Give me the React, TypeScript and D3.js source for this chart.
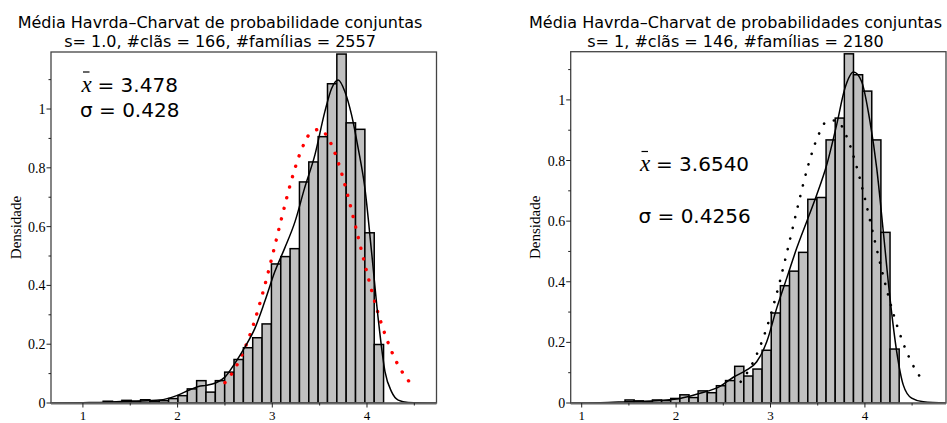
import React, { useEffect, useRef } from "react";
import * as d3 from "d3";

// histogram densities, 30 bins each
const leftBinStart = 1.214;
const leftBinWidth = 0.0987;
const leftDensity = [
  0.006, 0.003, 0.009, 0.006, 0.011, 0.006, 0.008, 0.015, 0.025, 0.048,
  0.076, 0.037, 0.076, 0.105, 0.148, 0.188, 0.222, 0.269, 0.473, 0.498,
  0.525, 0.752, 0.820, 0.906, 1.086, 1.187, 0.953, 0.931, 0.579, 0.199,
];

const rightBinStart = 1.459;
const rightBinWidth = 0.0968;
const rightDensity = [
  0.010, 0.007, 0.004, 0.010, 0.008, 0.015, 0.027, 0.018, 0.040, 0.034,
  0.057, 0.074, 0.121, 0.089, 0.112, 0.174, 0.297, 0.387, 0.435, 0.497,
  0.672, 0.678, 0.868, 0.940, 1.152, 1.083, 1.029, 0.868, 0.563, 0.178,
];

// smooth density (solid line)
const leftKde: [number, number][] = [
  [0.66, 0], [1.0, 0.001], [1.18, 0.002], [1.53, 0.006], [1.81, 0.01],
  [1.99, 0.025], [2.13, 0.045], [2.22, 0.056], [2.3, 0.06], [2.4, 0.068],
  [2.5, 0.088], [2.605, 0.135], [2.71, 0.19], [2.816, 0.254], [2.92, 0.345],
  [3.027, 0.447], [3.13, 0.526], [3.24, 0.617], [3.34, 0.73], [3.45, 0.844],
  [3.555, 0.991], [3.626, 1.07], [3.696, 1.099], [3.767, 1.059], [3.837, 0.98],
  [3.907, 0.866], [3.978, 0.73], [4.048, 0.515], [4.118, 0.288], [4.19, 0.107],
  [4.26, 0.038], [4.33, 0.01], [4.435, 0.002], [4.73, 0],
];

const rightKde: [number, number][] = [
  [0.884, 0], [1.2, 0.001], [1.477, 0.004], [1.83, 0.008], [2.04, 0.015],
  [2.253, 0.032], [2.465, 0.055], [2.606, 0.085], [2.748, 0.109], [2.854, 0.136],
  [2.96, 0.202], [3.066, 0.313], [3.172, 0.412], [3.278, 0.511], [3.383, 0.598],
  [3.489, 0.686], [3.595, 0.785], [3.7, 0.917], [3.789, 1.039], [3.88, 1.092],
  [3.966, 1.06], [4.054, 0.928], [4.125, 0.775], [4.195, 0.565], [4.266, 0.345],
  [4.337, 0.169], [4.407, 0.059], [4.495, 0.016], [4.619, 0.004], [4.859, 0],
];

// normal fit (dotted line)
const leftNormal: [number, number][] = [
  [2.5, 0.069], [2.6, 0.114], [2.7, 0.179], [2.8, 0.266], [2.9, 0.375],
  [3.0, 0.5], [3.1, 0.631], [3.2, 0.755], [3.3, 0.855], [3.4, 0.917],
  [3.5, 0.931], [3.6, 0.895], [3.7, 0.815], [3.8, 0.702], [3.9, 0.573],
  [4.0, 0.443], [4.1, 0.324], [4.2, 0.225], [4.3, 0.147], [4.4, 0.092],
  [4.45, 0.071],
];

const rightNormal: [number, number][] = [
  [2.684, 0.07], [2.8, 0.125], [2.9, 0.195], [3.0, 0.288], [3.1, 0.402],
  [3.2, 0.531], [3.3, 0.663], [3.4, 0.785], [3.5, 0.878], [3.6, 0.93],
  [3.7, 0.932], [3.8, 0.884], [3.9, 0.793], [4.0, 0.674], [4.1, 0.541],
  [4.2, 0.412], [4.3, 0.296], [4.4, 0.202], [4.5, 0.13], [4.6, 0.079],
];

const yMajor = [0, 0.2, 0.4, 0.6, 0.8, 1];
const yMajorLabels = ["0", "0.2", "0.4", "0.6", "0.8", "1"];
const xMajor = [1, 2, 3, 4];
const xMinor = [1.5, 2.5, 3.5, 4.5];

function Panel(props: any) {
  const ref = useRef<SVGGElement>(null);
  const { box, xDomain, yDomain, binStart, binWidth, density, kde, normal,
    normalColor, normalWidth, title1, title2, titleX, meanText, sdText, annot } = props;

  useEffect(() => {
    const g = d3.select(ref.current);
    g.selectAll("*").remove();

    const x = d3.scaleLinear().domain(xDomain).range([box.left, box.right]);
    const y = d3.scaleLinear().domain(yDomain).range([box.bottom, box.top]);

    const defs = g.append("defs");
    const clipId = "clip" + Math.round(box.left);
    defs.append("clipPath").attr("id", clipId)
      .append("rect")
      .attr("x", box.left).attr("y", box.top)
      .attr("width", box.right - box.left).attr("height", box.bottom - box.top);

    // titles
    g.append("text").text(title1)
      .attr("x", titleX).attr("y", 28)
      .attr("text-anchor", "middle")
      .attr("font-family", "DejaVu Sans")
      .attr("font-size", "16px");
    g.append("text").text(title2)
      .attr("x", titleX).attr("y", 46.5)
      .attr("text-anchor", "middle")
      .attr("font-family", "DejaVu Sans")
      .attr("font-size", "16px");

    // bars
    const plot = g.append("g").attr("clip-path", `url(#${clipId})`);
    plot.selectAll(".bar")
      .data(density)
      .enter()
      .append("rect")
      .attr("class", "bar")
      .attr("x", (d: number, i: number) => x(binStart + i * binWidth))
      .attr("y", (d: number) => y(d))
      .attr("width", x(binStart + binWidth) - x(binStart))
      .attr("height", (d: number) => y(0) - y(d))
      .attr("fill", "#c0c0c0")
      .attr("stroke", "#000")
      .attr("stroke-width", 1.5);

    const line = d3.line<[number, number]>()
      .x(d => x(d[0]))
      .y(d => y(d[1]))
      .curve(d3.curveMonotoneX);

    plot.append("path")
      .attr("d", line(normal))
      .attr("fill", "none")
      .attr("stroke", normalColor)
      .attr("stroke-width", normalWidth)
      .attr("stroke-linecap", "round")
      .attr("stroke-dasharray", "0.1 10.8");

    plot.append("path")
      .attr("d", line(kde))
      .attr("fill", "none")
      .attr("stroke", "#000")
      .attr("stroke-width", 1.5);

    // frame
    g.append("rect")
      .attr("x", box.left).attr("y", box.top)
      .attr("width", box.right - box.left).attr("height", box.bottom - box.top)
      .attr("fill", "none")
      .attr("stroke", "#444")
      .attr("stroke-width", 1.3);
    g.append("line")
      .attr("x1", box.left).attr("x2", box.right)
      .attr("y1", box.bottom + 0.5).attr("y2", box.bottom + 0.5)
      .attr("stroke", "#666").attr("stroke-width", 2);

    // y ticks
    const yMinor = d3.range(0.1, yDomain[1], 0.2);
    g.selectAll(".ymaj").data(yMajor).enter().append("line")
      .attr("x1", box.left - 4.5).attr("x2", box.left)
      .attr("y1", d => y(d)).attr("y2", d => y(d))
      .attr("stroke", "#222").attr("stroke-width", 1);
    g.selectAll(".ymin").data(yMinor).enter().append("line")
      .attr("x1", box.left - 2.5).attr("x2", box.left)
      .attr("y1", d => y(d)).attr("y2", d => y(d))
      .attr("stroke", "#222").attr("stroke-width", 1);
    g.selectAll(".ylab").data(yMajor).enter().append("text")
      .text((d, i) => yMajorLabels[i])
      .attr("x", box.left - 5.5)
      .attr("y", d => y(d) + 5)
      .attr("text-anchor", "end")
      .attr("font-family", "Liberation Serif")
      .attr("font-size", "14px");

    // x ticks
    g.selectAll(".xmaj").data(xMajor).enter().append("line")
      .attr("x1", d => x(d)).attr("x2", d => x(d))
      .attr("y1", box.bottom).attr("y2", box.bottom + 4.5)
      .attr("stroke", "#222").attr("stroke-width", 1);
    g.selectAll(".xmin").data(xMinor).enter().append("line")
      .attr("x1", d => x(d)).attr("x2", d => x(d))
      .attr("y1", box.bottom).attr("y2", box.bottom + 2.5)
      .attr("stroke", "#222").attr("stroke-width", 1);
    g.selectAll(".xlab").data(xMajor).enter().append("text")
      .text(d => d)
      .attr("x", d => x(d))
      .attr("y", 419.5)
      .attr("text-anchor", "middle")
      .attr("font-family", "Liberation Serif")
      .attr("font-size", "13px");

    // axis title
    g.append("text").text("Densidade")
      .attr("transform", `translate(${annot.yLabelX}, ${(box.top + box.bottom) / 2}) rotate(-90)`)
      .attr("text-anchor", "middle")
      .attr("font-family", "Liberation Serif")
      .attr("font-size", "15px");

    // mean / sd annotation
    g.append("text").text("x")
      .attr("x", annot.x).attr("y", annot.meanY)
      .attr("font-family", "Liberation Serif")
      .attr("font-style", "italic")
      .attr("font-size", "23px");
    g.append("line")
      .attr("x1", annot.x + 1.5).attr("x2", annot.x + 8)
      .attr("y1", annot.meanY - 19.5).attr("y2", annot.meanY - 19.5)
      .attr("stroke", "#000").attr("stroke-width", 1.2);
    g.append("text").text(meanText)
      .attr("x", annot.x + 16).attr("y", annot.meanY)
      .attr("font-family", "DejaVu Sans")
      .attr("font-size", "20px");
    g.append("text").text("σ " + sdText)
      .attr("x", annot.x - 1.5).attr("y", annot.sdY)
      .attr("font-family", "DejaVu Sans")
      .attr("font-size", "20px");
  }, []);

  return <g ref={ref} />;
}

export default function App() {
  return (
    <svg width={947} height={423} style={{ position: "absolute", left: 0, top: 0, background: "#fff" }}>
      <Panel
        box={{ left: 51, right: 436.5, top: 52, bottom: 403 }}
        xDomain={[0.663, 4.734]}
        yDomain={[0, 1.194]}
        binStart={leftBinStart}
        binWidth={leftBinWidth}
        density={leftDensity}
        kde={leftKde}
        normal={leftNormal}
        normalColor="#ff0000"
        normalWidth={3.4}
        title1="Média Havrda–Charvat de probabilidade conjuntas"
        title2="s= 1.0, #clãs = 166, #famílias = 2557"
        titleX={220}
        meanText="= 3.478"
        sdText="= 0.428"
        annot={{ x: 81.5, meanY: 91.5, sdY: 116.5, yLabelX: 21 }}
      />
      <Panel
        box={{ left: 570.7, right: 946, top: 51.7, bottom: 403 }}
        xDomain={[0.8835, 4.859]}
        yDomain={[0, 1.159]}
        binStart={rightBinStart}
        binWidth={rightBinWidth}
        density={rightDensity}
        kde={rightKde}
        normal={rightNormal}
        normalColor="#000"
        normalWidth={2.6}
        title1="Média Havrda–Charvat de probabilidades conjuntas"
        title2="s= 1, #clãs = 146, #famílias = 2180"
        titleX={735.5}
        meanText="= 3.6540"
        sdText="= 0.4256"
        annot={{ x: 640, meanY: 171, sdY: 222.5, yLabelX: 540 }}
      />
    </svg>
  );
}
